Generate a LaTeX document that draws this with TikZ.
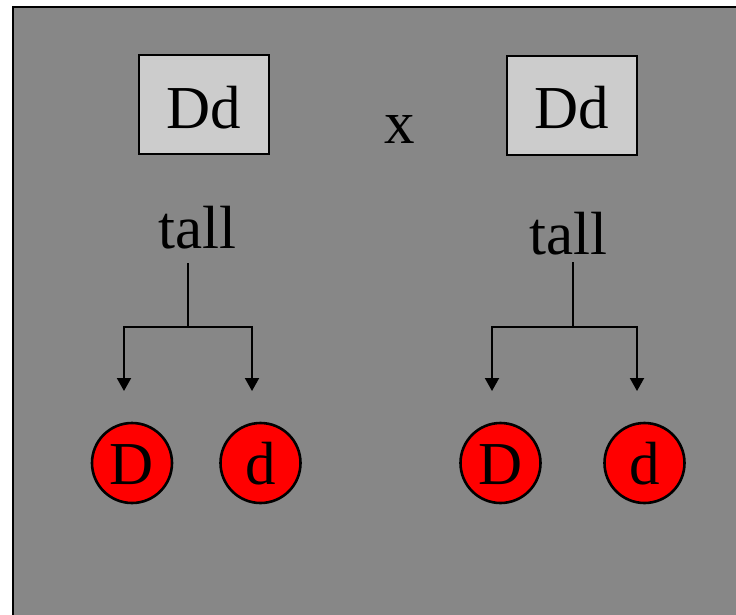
\documentclass[tikz,border=0pt]{standalone}
\usepackage{fontspec}
\setmainfont{Liberation Serif}
\usetikzlibrary{arrows.meta}
\definecolor{bggray}{RGB}{135,135,135}
\definecolor{boxgray}{RGB}{204,204,204}
\begin{document}
\begin{tikzpicture}[x=1pt,y=-1pt,
  every node/.style={font=\fontsize{61}{70}\selectfont},
  parentbox/.style={draw=black,line width=2pt,fill=boxgray,rectangle,inner sep=0pt,
    minimum width=130pt,text height=73pt,text depth=26pt},
  allele/.style={draw=black,line width=2.6pt,fill=red,circle,inner sep=0pt,
    minimum size=80pt,text height=42pt,text depth=0pt},
  plain/.style={inner sep=0pt,anchor=base},
  conn/.style={draw=black,line width=2pt},
  arr/.style={conn,-{Triangle[width=14pt,length=13pt]}}]
\useasboundingbox (0,0) rectangle (736,614);
\fill[white] (0,0) rectangle (736,614);
\draw[line width=2.6pt,fill=bggray] (13,7) rectangle (745,625);
% parents
\node[parentbox] (pL) at (204,104.5) {Dd};
\node[parentbox] (pR) at (572,105) {Dd};
\node[plain] (cross) at (399.5,143) {x};
% phenotypes
\node[plain] (tallL) at (197,248) {tall};
\node[plain] (tallR) at (568,254) {tall};
% junctions and arrow tips
\coordinate (jL) at (188,327);
\coordinate (jR) at (573,327);
\coordinate (tL1) at (124,391);
\coordinate (tL2) at (252,391);
\coordinate (tR1) at (492,391);
\coordinate (tR2) at (637,391);
\draw[conn] ([yshift=-15pt]tallL.base -| jL) -- (jL);
\draw[conn] ([yshift=-8pt]tallR.base -| jR) -- (jR);
\draw[arr] (jL) -| (tL1);
\draw[arr] (jL) -| (tL2);
\draw[arr] (jR) -| (tR1);
\draw[arr] (jR) -| (tR2);
% gametes
\node[allele] (gL1) at (132,463) {D};
\node[allele] (gL2) at (260.5,463) {d};
\node[allele] (gR1) at (500.5,463) {D};
\node[allele] (gR2) at (644.5,463) {d};
\end{tikzpicture}
\end{document}
